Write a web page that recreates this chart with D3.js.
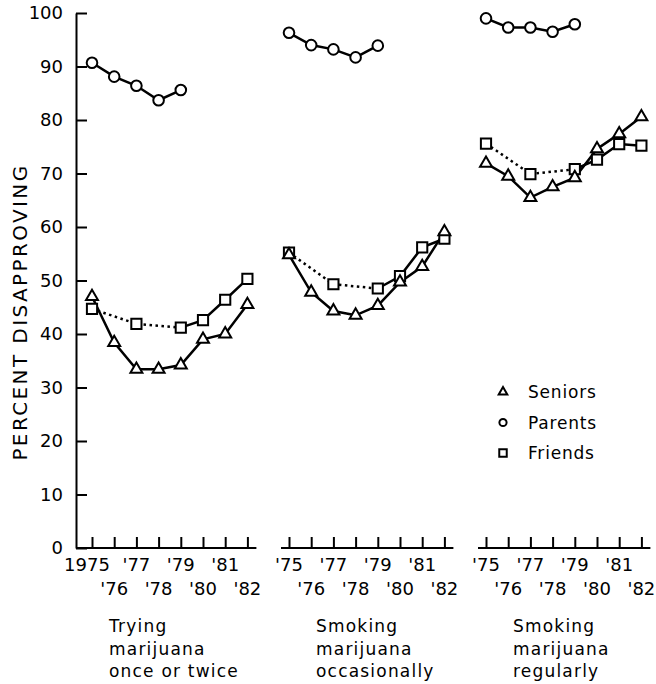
<!DOCTYPE html>
<html>
<head>
  <meta http-equiv="Content-Type" content="text/html;charset=utf-8">
  <title>Percent disapproving</title>
  <script src="https://d3js.org/d3.v7.min.js"></script>
  <style type="text/css">
    body { margin: 0; background: #fff; }
    text { font-family: "DejaVu Sans", sans-serif; fill: #000; }
    .axis path, .axis line { stroke: #000; stroke-width: 2px; }
    .series { fill: none; stroke: #000; stroke-width: 2.5px; }
    .dotted { stroke-dasharray: 2.5 3.5; }
    .mark { fill: #fff; stroke: #000; stroke-width: 2px; }
  </style>
</head>
<body>
  <svg width="656" height="684"></svg>
  <script type='text/javascript'>
    // values
    const years = [1975, 1976, 1977, 1978, 1979, 1980, 1981, 1982];
    const yearLabels = ['1975', "'76", "'77", "'78", "'79", "'80", "'81", "'82"];
    const yearLabelsShort = ["'75", "'76", "'77", "'78", "'79", "'80", "'81", "'82"];
    const yTicks = [0, 10, 20, 30, 40, 50, 60, 70, 80, 90, 100];

    const panelTitles = [
      ['Trying', 'marijuana', 'once or twice'],
      ['Smoking', 'marijuana', 'occasionally'],
      ['Smoking', 'marijuana', 'regularly']
    ];

    const seniors = [
      [47.0, 38.4, 33.4, 33.4, 34.2, 39.0, 40.0, 45.5],
      [54.8, 47.8, 44.3, 43.5, 45.3, 49.7, 52.6, 59.1],
      [71.9, 69.5, 65.5, 67.5, 69.2, 74.6, 77.4, 80.6]
    ];

    const parentYears = [1975, 1976, 1977, 1978, 1979];
    const parents = [
      [90.7, 88.1, 86.4, 83.7, 85.6],
      [96.3, 94.0, 93.2, 91.7, 93.9],
      [99.0, 97.3, 97.3, 96.5, 97.9]
    ];

    const friendYears = [1975, 1977, 1979, 1980, 1981, 1982];
    const friends = [
      [44.7, 41.9, 41.2, 42.6, 46.4, 50.3],
      [55.2, 49.3, 48.5, 50.8, 56.2, 57.8],
      [75.6, 69.9, 70.8, 72.6, 75.5, 75.2]
    ];

    const legendNames = ['Seniors', 'Parents', 'Friends'];

    const svg = d3.select('svg');
    const y = d3.scaleLinear().domain([0, 100]).range([548, 13]);
    const panelLeft = [92, 289, 486];
    const yearStep = 22.2;

    const triangle = d3.symbol(d3.symbolTriangle, 62);
    const square = d3.symbol(d3.symbolSquare, 104);

    // y axis with inward ticks
    const yAxis = svg.append('g')
      .attr('class', 'axis')
      .attr('transform', 'translate(76,0)')
      .call(d3.axisLeft(y).tickValues(yTicks).tickSizeInner(-11).tickSizeOuter(0).tickPadding(13));
    yAxis.selectAll('text').style('font-size', '18px').style('font-family', '"DejaVu Sans", sans-serif');

    svg.append('text')
      .attr('transform', 'translate(27,312) rotate(-90)')
      .attr('text-anchor', 'middle')
      .style('font-size', '20px')
      .style('letter-spacing', '2.4px')
      .text('PERCENT DISAPPROVING');

    panelTitles.forEach((title, p) => {
      const x = d3.scaleLinear()
        .domain([1975, 1982])
        .range([panelLeft[p], panelLeft[p] + 7 * yearStep]);
      const g = svg.append('g');

      // baseline and upward ticks
      const x0 = p === 0 ? 76 : x(1975) - 8;
      g.append('line')
        .attr('x1', x0).attr('x2', x(1982) + 9)
        .attr('y1', y(0)).attr('y2', y(0))
        .attr('stroke', '#000').attr('stroke-width', 2);
      const xAxis = g.append('g')
        .attr('class', 'axis')
        .attr('transform', `translate(0,${y(0)})`)
        .call(d3.axisBottom(x).tickValues(years).tickSizeInner(-11).tickSizeOuter(0).tickFormat(''));
      xAxis.select('.domain').remove();

      const labels = p === 0 ? yearLabels : yearLabelsShort;
      g.selectAll('.yr')
        .data(years)
        .enter().append('text')
          .attr('class', 'yr')
          .attr('x', (d, i) => (p === 0 && i === 0) ? x(d) - 5 : x(d))
          .attr('y', (d, i) => i % 2 === 0 ? 571 : 595)
          .attr('text-anchor', 'middle')
          .style('font-size', '18px')
          .text((d, i) => labels[i]);

      g.selectAll('.title')
        .data(title)
        .enter().append('text')
          .attr('class', 'title')
          .attr('x', x(1975) + 17 + (p === 0 ? 0 : 10))
          .attr('y', (d, i) => 632 + i * 22.5)
          .style('font-size', '17px')
          .style('letter-spacing', '1.2px')
          .text((d) => d);

      const line = d3.line().x((d) => x(d[0])).y((d) => y(d[1]));

      const sPts = years.map((yr, i) => [yr, seniors[p][i]]);
      const pPts = parentYears.map((yr, i) => [yr, parents[p][i]]);
      const fPts = friendYears.map((yr, i) => [yr, friends[p][i]]);

      g.append('path').attr('class', 'series').attr('d', line(pPts));
      g.append('path').attr('class', 'series').attr('d', line(sPts));
      g.append('path').attr('class', 'series dotted').attr('d', line(fPts.slice(0, 3)));
      g.append('path').attr('class', 'series').attr('d', line(fPts.slice(2)));

      g.selectAll('.pc')
        .data(pPts)
        .enter().append('circle')
          .attr('class', 'mark')
          .attr('cx', (d) => x(d[0]))
          .attr('cy', (d) => y(d[1]))
          .attr('r', 5.3);

      g.selectAll('.fs')
        .data(fPts)
        .enter().append('path')
          .attr('class', 'mark')
          .attr('transform', (d) => `translate(${x(d[0])},${y(d[1])})`)
          .attr('d', square);

      g.selectAll('.st')
        .data(sPts)
        .enter().append('path')
          .attr('class', 'mark')
          .attr('transform', (d) => `translate(${x(d[0])},${y(d[1])})`)
          .attr('d', triangle);
    });

    // legend
    const legend = svg.append('g').attr('transform', 'translate(503,392)');
    legendNames.forEach((name, i) => {
      const row = legend.append('g').attr('transform', `translate(0,${i * 30.5})`);
      if (i === 0) {
        row.append('path').attr('class', 'mark').attr('d', d3.symbol(d3.symbolTriangle, 32)());
      } else if (i === 1) {
        row.append('circle').attr('class', 'mark').attr('r', 3.6);
      } else {
        row.append('path').attr('class', 'mark').attr('d', d3.symbol(d3.symbolSquare, 56)());
      }
      row.append('text')
        .attr('x', 25)
        .attr('y', 6)
        .style('font-size', '17px')
        .style('letter-spacing', '0.8px')
        .text(name);
    });
  </script>
</body>
</html>
